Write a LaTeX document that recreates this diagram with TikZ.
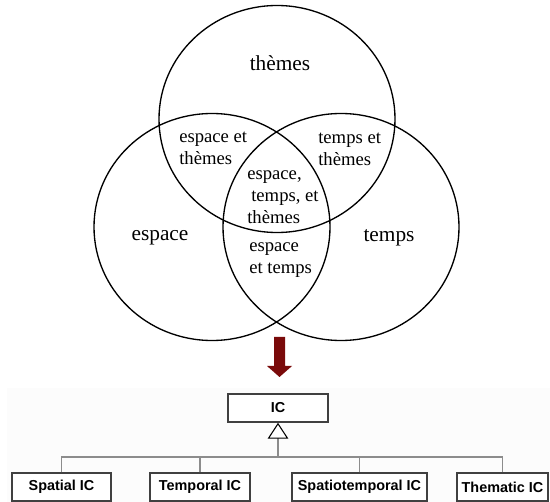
\documentclass[tikz,border=0pt]{standalone}
\usepackage{fontspec}
\setmainfont{Liberation Serif}
\setsansfont{Liberation Sans}
\usetikzlibrary{arrows.meta, positioning}
\definecolor{arrowred}{HTML}{7A0A0A}
\definecolor{boxgray}{HTML}{404040}
\definecolor{linkgray}{HTML}{8C8C8C}

\begin{document}
\begin{tikzpicture}[x=0.75pt, y=-0.75pt,
  venn/.style={draw=black, line width=1pt},
  biglabel/.style={font=\fontsize{16}{19}\selectfont},
  smalllabel/.style={font=\fontsize{14}{16.5}\selectfont, align=left, inner sep=0pt, anchor=west},
  icbox/.style={draw=boxgray, line width=1.1pt, fill=white, inner sep=0pt,
    minimum height=21pt, font=\sffamily\bfseries\fontsize{10.8}{12}\selectfont},
  link/.style={draw=linkgray, line width=0.8pt}]
  % page size and the faint panel behind the class diagram
  \useasboundingbox (0,0) rectangle (550,502);
  \fill[white] (0,0) rectangle (550,502);
  \fill[black!1] (7,388) rectangle (550,502);

  % Venn diagram: three sets
  \draw[venn] (277,119) ellipse [x radius=118, y radius=113.5];
  \draw[venn] (212,227) ellipse [x radius=118, y radius=113.5];
  \draw[venn] (341,227) ellipse [x radius=118, y radius=113.5];

  % single sets
  \node[biglabel] (themes) at (280,63) {thèmes};
  \node[biglabel] (espace) at (160,238) {espace};
  \node[biglabel] (temps) at (389,238) {temps};

  % overlaps
  \node[smalllabel] (espthem) at (179,148) {espace et\\thèmes};
  \node[smalllabel] (tempthem) at (318,149) {temps et\\thèmes};
  \node[smalllabel] (all) at (247,197) {espace,\\\hspace*{3pt}temps, et\\thèmes};
  \node[smalllabel] (esptemp) at (249,260) {espace\\et temps};

  % block arrow down to the class diagram
  \fill[arrowred] (274,337) -- (285,337) -- (285,366) -- (292,366) -- (279.5,377)
    -- (267,366) -- (274,366) -- cycle;

  % class hierarchy
  \node[icbox, minimum width=75pt] (ic) at (278,408) {IC};
  \node[icbox, minimum width=74.25pt] (spatial) at (61.5,487) {Spatial IC};
  \node[icbox, minimum width=75pt] (temporal) at (200,487) {Temporal IC};
  \node[icbox, minimum width=101.25pt] (spatiotemporal) at (359.5,487) {Spatiotemporal IC};
  \node[icbox, minimum width=68.25pt] (thematic) at (502.5,487) {Thematic IC};

  \coordinate (joint) at (278,457);
  \draw[link] (spatial.north) |- (joint);
  \draw[link] (temporal.north) |- (joint);
  \draw[link] (spatiotemporal.north) |- (joint);
  \draw[link] (thematic.north) |- (joint);
  \draw[link, -{Triangle[open, length=12pt, width=15.5pt, color=black, fill=white, line width=0.8pt]}]
    (joint) -- (ic.south);
\end{tikzpicture}
\end{document}
